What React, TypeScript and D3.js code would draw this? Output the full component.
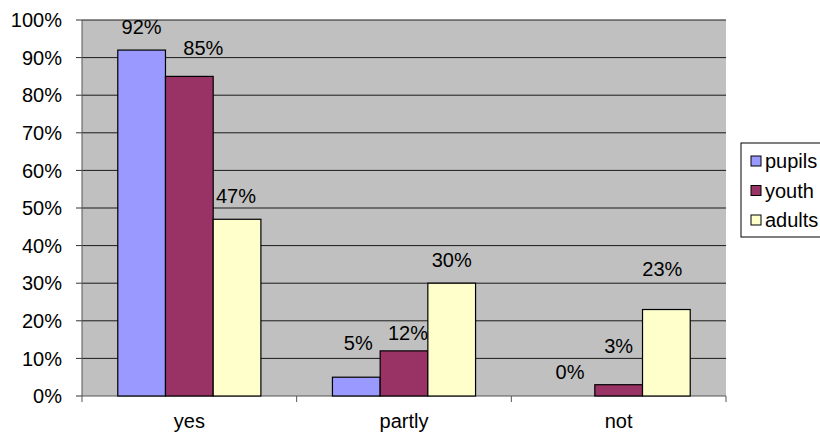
import React from "react";
import * as d3 from "d3";

const categories = ["yes", "partly", "not"];
const seriesNames = ["pupils", "youth", "adults"];
const pupils = [92, 5, 0];
const youth = [85, 12, 3];
const adults = [47, 30, 23];
const yTicks = [0, 10, 20, 30, 40, 50, 60, 70, 80, 90, 100];

const colors = ["#9999FF", "#993366", "#FFFFCC"];
// label offsets relative to bar top-centre (dx, dy) per series per category
const labelOffsets = [
  [[0, -16], [2, -27], [-1, -17]],
  [[14, -21], [4, -11], [0, -32]],
  [[-1, -16], [0, -16], [-4, -34]],
];

const W = 820;
const H = 432;
const plot = { left: 82, right: 726, top: 20, bottom: 396 };
const FONT = "'Liberation Sans', Arial, sans-serif";

export default function App() {
  const values = [pupils, youth, adults];
  const x0 = d3.scaleBand<string>().domain(categories).range([plot.left, plot.right]).padding(0);
  const x1 = d3
    .scaleBand<string>()
    .domain(seriesNames)
    .range([0, x0.bandwidth()])
    .paddingInner(0)
    .paddingOuter(0.75);
  const y = d3.scaleLinear().domain([0, 100]).range([plot.bottom, plot.top]);

  const boundaries = [...categories.map((c) => x0(c) as number), plot.right];

  return (
    <svg
      width={W}
      height={H}
      style={{ position: "absolute", left: 0, top: 0, background: "#fff" }}
      fontFamily={FONT}
    >
      <rect
        x={plot.left}
        y={plot.top}
        width={plot.right - plot.left}
        height={plot.bottom - plot.top}
        fill="#C0C0C0"
      />
      {yTicks.map((t) => (
        <g key={t}>
          {t > 0 && (
            <line x1={plot.left} x2={plot.right} y1={y(t)} y2={y(t)} stroke="#1a1a1a" strokeWidth={1} />
          )}
          <line x1={plot.left - 6} x2={plot.left} y1={y(t)} y2={y(t)} stroke="#333" strokeWidth={1} />
          <text x={62} y={y(t)} dy="0.36em" textAnchor="end" fontSize={20} fill="#000">
            {t}%
          </text>
        </g>
      ))}
      <line x1={plot.left} x2={plot.left} y1={plot.top} y2={plot.bottom} stroke="#555" strokeWidth={1} />
      <line x1={plot.left} x2={plot.right} y1={plot.bottom} y2={plot.bottom} stroke="#555" strokeWidth={1} />
      {boundaries.map((b, i) => (
        <line key={i} x1={b} x2={b} y1={plot.bottom} y2={plot.bottom + 6} stroke="#555" strokeWidth={1} />
      ))}
      {categories.map((c, ci) => (
        <g key={c}>
          {seriesNames.map((s, si) => {
            const v = values[si][ci];
            const bx = (x0(c) as number) + (x1(s) as number);
            const bw = x1.bandwidth();
            return (
              <g key={s}>
                {v > 0 && (
                  <rect
                    x={bx}
                    y={y(v)}
                    width={bw}
                    height={y(0) - y(v)}
                    fill={colors[si]}
                    stroke="#000"
                    strokeWidth={1.2}
                  />
                )}
                <text
                  x={bx + bw / 2 + labelOffsets[si][ci][0]}
                  y={y(v) + labelOffsets[si][ci][1]}
                  textAnchor="middle"
                  fontSize={20}
                  fill="#000"
                >
                  {v}%
                </text>
              </g>
            );
          })}
          <text
            x={(x0(c) as number) + x0.bandwidth() / 2}
            y={428}
            textAnchor="middle"
            fontSize={20}
            fill="#000"
          >
            {c}
          </text>
        </g>
      ))}
      <g>
        <rect x={741} y={143} width={100} height={94} fill="#fff" stroke="#000" strokeWidth={1} />
        {seriesNames.map((s, i) => (
          <g key={s} transform={`translate(751, ${161 + i * 29.5})`}>
            <rect x={0} y={-5} width={10} height={10} fill={colors[i]} stroke="#000" strokeWidth={1} />
            <text x={14} y={0} dy="0.36em" fontSize={20} fill="#000">
              {s}
            </text>
          </g>
        ))}
      </g>
    </svg>
  );
}
